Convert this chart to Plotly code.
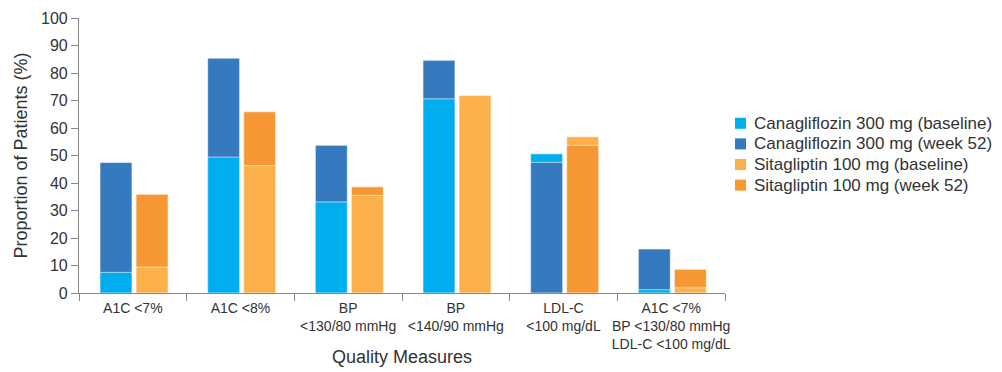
import plotly.graph_objects as go

categories = [
    "A1C <7%",
    "A1C <8%",
    "BP<br><130/80 mmHg",
    "BP<br><140/90 mmHg",
    "LDL-C<br><100 mg/dL",
    "A1C <7%<br>BP <130/80 mmHg<br>LDL-C <100 mg/dL",
]
cana_baseline = [7.5, 49.4, 33.1, 70.6, 50.6, 1.2]
cana_week52 = [47.5, 85.4, 53.7, 84.6, 47.5, 16.0]
sita_baseline = [9.4, 46.3, 35.5, 71.8, 56.8, 1.9]
sita_week52 = [35.9, 65.9, 38.6, 71.8, 53.7, 8.6]

names = [
    "Canagliflozin 300 mg (baseline)",
    "Canagliflozin 300 mg (week 52)",
    "Sitagliptin 100 mg (baseline)",
    "Sitagliptin 100 mg (week 52)",
]
colors = ["#00AEEF", "#3579BE", "#FBB04B", "#F79733"]

fig = go.Figure()

W = 0.297
groups = [
    (cana_baseline, cana_week52, colors[0], colors[1], -0.305),
    (sita_baseline, sita_week52, colors[2], colors[3], 0.03),
]
for base, wk, cb, cw, off in groups:
    back_y, back_c, front_y, front_c = [], [], [], []
    for b, w in zip(base, wk):
        if b <= w:
            back_y.append(w); back_c.append(cw)
            front_y.append(b); front_c.append(cb)
        else:
            back_y.append(b); back_c.append(cb)
            front_y.append(w); front_c.append(cw)
    for ys, cs in ((back_y, back_c), (front_y, front_c)):
        fig.add_trace(go.Bar(
            x=categories, y=ys, width=W, offset=off,
            marker=dict(color=cs, line=dict(color="rgba(255,255,255,0.6)", width=1)),
            showlegend=False, hoverinfo="y",
        ))

T, B, H = 10, 79, 364
ph = H - T - B  # plot height in px


def py(fig_y):
    return (H - B - fig_y) / ph


# Legend drawn as annotations + swatches (tight row spacing as in reference)
row_centers = [115.3, 135.9, 156.5, 177.1]
half = 5.5 / ph
shapes = []
annotations = []
for n, c, fy in zip(names, colors, row_centers):
    yc = py(fy)
    shapes.append(dict(type="rect", xref="paper", yref="paper",
                       x0=1.0155, x1=1.0325, y0=yc - half, y1=yc + half,
                       fillcolor=c, line=dict(width=0), layer="above"))
    annotations.append(dict(text=n, xref="paper", yref="paper", x=1.0418, y=yc,
                            xanchor="left", yanchor="middle", showarrow=False,
                            font=dict(size=17, color="#333333")))

annotations.append(dict(
    text="Quality Measures", xref="paper", yref="paper", x=0.5, y=py(349),
    xanchor="center", yanchor="middle", showarrow=False,
    font=dict(size=18, color="#333333"),
))

fig.update_layout(
    width=994, height=H,
    barmode="overlay",
    showlegend=False,
    paper_bgcolor="white", plot_bgcolor="white",
    margin=dict(l=71, r=277, t=T, b=B, autoexpand=False),
    font=dict(family="Liberation Sans, Arial, sans-serif", color="#333333"),
    xaxis=dict(
        showline=True, linecolor="#888888", linewidth=1.2,
        ticks="outside", tickson="boundaries", ticklen=7, tickcolor="#888888",
        tickangle=0, automargin=False, ticklabelstandoff=2,
        tickfont=dict(size=14, color="#333333"),
        showgrid=False,
    ),
    yaxis=dict(
        range=[0, 100], dtick=10, showline=True, linecolor="#888888", linewidth=1.2,
        ticks="outside", ticklen=7, tickcolor="#888888", automargin=False,
        tickfont=dict(size=16, color="#333333"),
        title=dict(text="Proportion of Patients (%)", font=dict(size=18, color="#333333"), standoff=8),
        showgrid=False, zeroline=False,
    ),
    shapes=shapes,
    annotations=annotations,
)

fig.write_html("out.html")
